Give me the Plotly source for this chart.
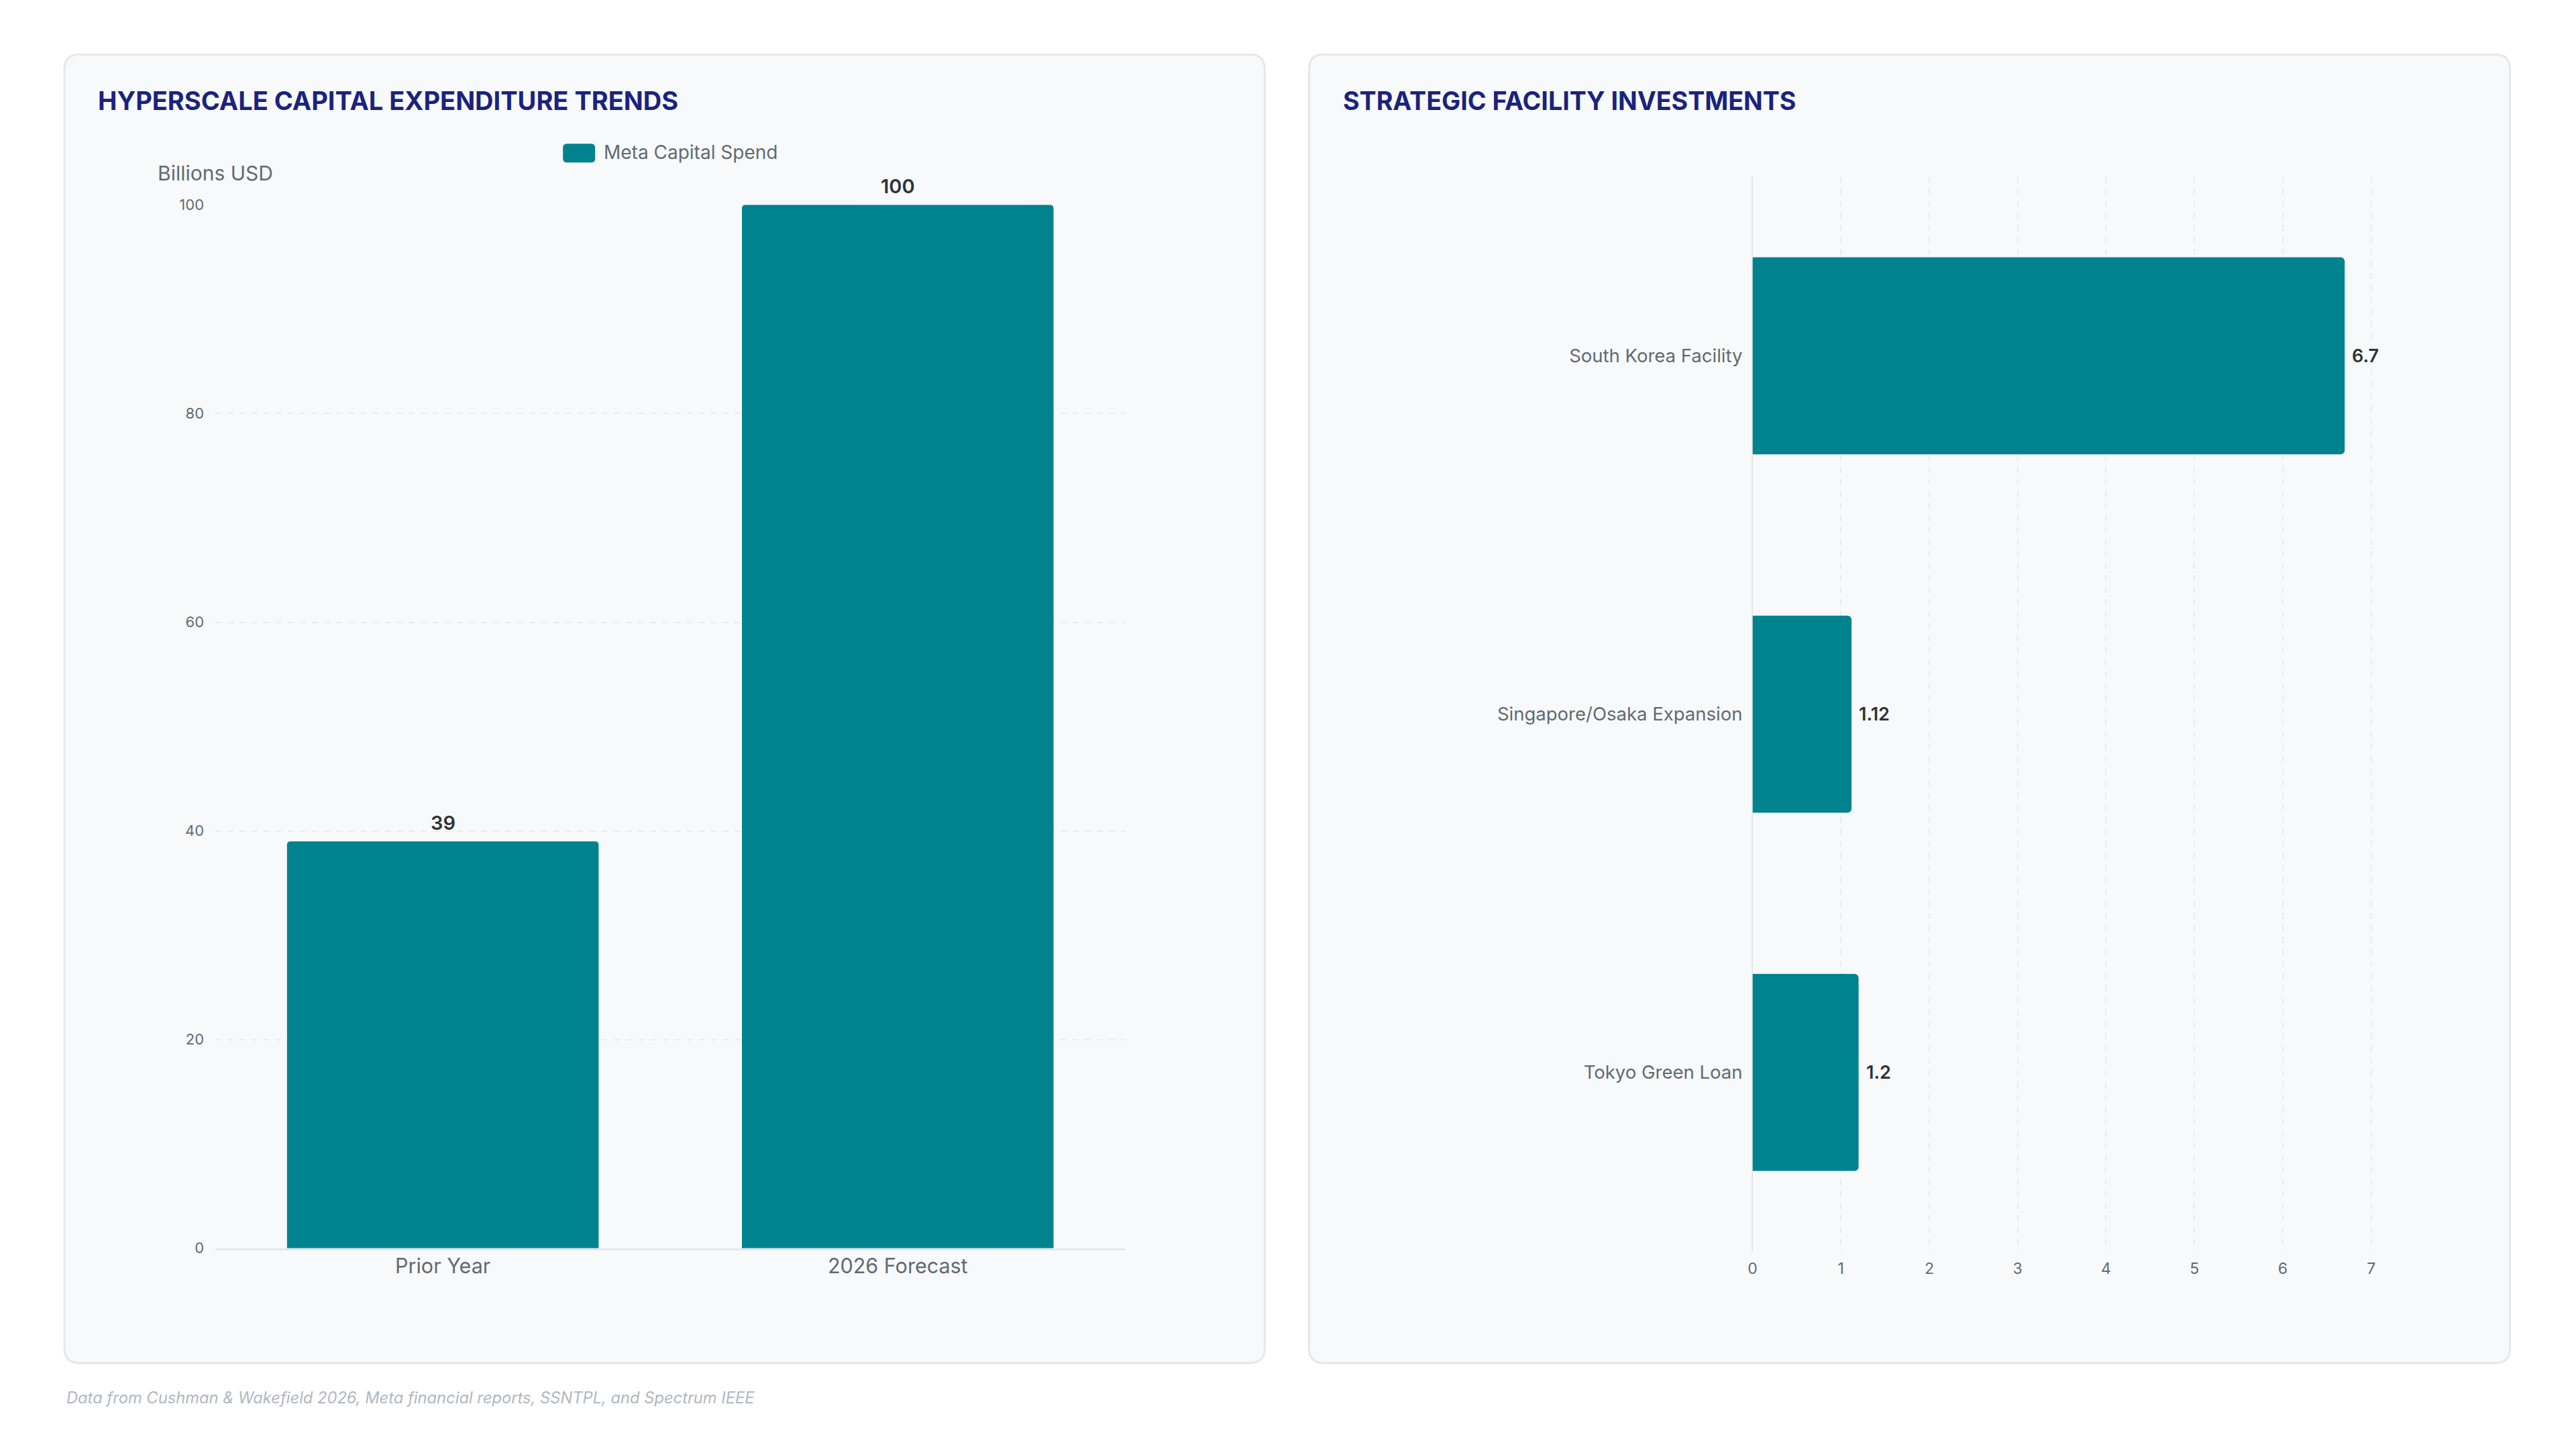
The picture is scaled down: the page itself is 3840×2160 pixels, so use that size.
import plotly.graph_objects as go

# Figure size (page has an 8px body margin around the plot div)
OFF = 8
W, H = 3840 - 2 * OFF, 2160 - 2 * OFF
# empirical screen mapping correction
SX, SY, AY = 0.998, 0.987, 5.0

# ---- data ----
capex_categories = ["Prior Year", "2026 Forecast"]
capex_values = [39, 100]
capex_series_name = "Meta Capital Spend"
capex_axis_title = "Billions USD"
capex_ticks = [0, 20, 40, 60, 80, 100]

facility_categories = ["South Korea Facility", "Singapore/Osaka Expansion", "Tokyo Green Loan"]
facility_values = [6.7, 1.12, 1.2]
facility_ticks = [0, 1, 2, 3, 4, 5, 6, 7]

left_title = "HYPERSCALE CAPITAL EXPENDITURE TRENDS"
right_title = "STRATEGIC FACILITY INVESTMENTS"
footer = "Data from Cushman & Wakefield 2026, Meta financial reports, SSNTPL, and Spectrum IEEE"

TEAL = "#00838F"
NAVY = "#1A237E"
LABEL = "#5F6B70"
VALUE = "#2D3436"
FONT = "Inter, Noto Sans, sans-serif"


def px(x):
    return (x / SX - OFF) / W


def py(y):
    return 1 - ((y - AY) / SY - OFF) / H


def rounded_path(x0, y0, x1, y1, r):
    pts = [
        ("M", [(x0 + r, y0)]),
        ("L", [(x1 - r, y0)]),
        ("Q", [(x1, y0), (x1, y0 + r)]),
        ("L", [(x1, y1 - r)]),
        ("Q", [(x1, y1), (x1 - r, y1)]),
        ("L", [(x0 + r, y1)]),
        ("Q", [(x0, y1), (x0, y1 - r)]),
        ("L", [(x0, y0 + r)]),
        ("Q", [(x0, y0), (x0 + r, y0)]),
    ]
    s = ""
    for cmd, ps in pts:
        s += cmd + " " + " ".join(f"{px(a):.6f},{py(b):.6f}" for a, b in ps) + " "
    return s + "Z"


fig = go.Figure()

fig.add_trace(go.Bar(
    x=capex_categories, y=capex_values, name=capex_series_name,
    width=0.685,
    marker=dict(color=TEAL, cornerradius=5, line=dict(width=0)),
    showlegend=False, xaxis="x", yaxis="y",
))

fig.add_trace(go.Bar(
    y=facility_categories, x=facility_values, orientation="h",
    width=0.55,
    marker=dict(color=TEAL, cornerradius=6, line=dict(width=0)),
    showlegend=False, xaxis="x2", yaxis="y2",
))

grid = "#E9ECEF"

fig.update_layout(
    width=W, height=H,
    margin=dict(l=0, r=0, t=0, b=0),
    paper_bgcolor="white", plot_bgcolor="rgba(0,0,0,0)",
    font=dict(family=FONT, color=LABEL),
    xaxis=dict(
        domain=[px(322), px(1678)], anchor="y",
        showgrid=False, zeroline=False, showline=True, linecolor="#E3E6EA", linewidth=3,
        ticks="", tickfont=dict(size=30.5, color=LABEL), ticklabelstandoff=-2,
        fixedrange=True,
    ),
    yaxis=dict(
        domain=[py(1859), py(305)], anchor="x",
        range=[0, 100], tickvals=capex_ticks,
        showgrid=True, gridcolor=grid, griddash="dash", gridwidth=2,
        zeroline=False, showline=False,
        tickfont=dict(size=22, color=LABEL), ticklabelstandoff=16,
    ),
    xaxis2=dict(
        domain=[px(2613), px(3601)], anchor="y2",
        range=[0, 7.5], tickvals=facility_ticks,
        showgrid=True, gridcolor=grid, griddash="dash", gridwidth=2,
        zeroline=True, zerolinecolor="#E3E6EA", zerolinewidth=2, showline=False,
        tickfont=dict(size=23, color=LABEL), ticklabelstandoff=9,
    ),
    yaxis2=dict(
        domain=[py(1864), py(263)], anchor="x2",
        autorange="reversed", categoryorder="array", categoryarray=facility_categories,
        showgrid=False, zeroline=False, showline=False,
        tickfont=dict(size=27.5, color=LABEL), ticklabelstandoff=14,
    ),
)

shapes = []
for x0, x1 in [(97, 1886), (1952, 3742)]:
    shapes.append(dict(type="path", path=rounded_path(x0, 81, x1, 2030, 22),
                       xref="paper", yref="paper", fillcolor="#F8F9FB",
                       line=dict(color="#E5E8EC", width=3), layer="below"))
# legend swatch
shapes.append(dict(type="path", path=rounded_path(840, 214, 888, 242, 6),
                   xref="paper", yref="paper", fillcolor=TEAL,
                   line=dict(width=0), layer="above"))
fig.update_layout(shapes=shapes)

annotations = [
    dict(text=f"<b>{left_title}</b>", x=px(145), y=py(150), xref="paper", yref="paper",
         xanchor="left", yanchor="middle", showarrow=False,
         font=dict(family=FONT, size=38, color=NAVY)),
    dict(text=f"<b>{right_title}</b>", x=px(2001), y=py(150), xref="paper", yref="paper",
         xanchor="left", yanchor="middle", showarrow=False,
         font=dict(family=FONT, size=37.6, color=NAVY)),
    dict(text=capex_series_name, x=px(899), y=py(227), xref="paper", yref="paper",
         xanchor="left", yanchor="middle", showarrow=False,
         font=dict(family=FONT, size=28, color=LABEL)),
    dict(text=capex_axis_title, x=px(234), y=py(258), xref="paper", yref="paper",
         xanchor="left", yanchor="middle", showarrow=False,
         font=dict(family=FONT, size=30, color=LABEL)),
    dict(text=f"<i>{footer}</i>", x=px(98), y=py(2082), xref="paper", yref="paper",
         xanchor="left", yanchor="middle", showarrow=False,
         font=dict(family=FONT, size=23.7, color="#B0B8BF")),
]

# value labels, positioned through the data axes
for cat, val in zip(capex_categories, capex_values):
    annotations.append(dict(
        text=str(val), x=cat, y=val, xref="x", yref="y",
        xanchor="center", yanchor="middle", yshift=28, showarrow=False,
        font=dict(family=FONT, size=29, color=VALUE, weight=600),
    ))
for cat, val in zip(facility_categories, facility_values):
    annotations.append(dict(
        text=str(val), x=val, y=cat, xref="x2", yref="y2",
        xanchor="left", yanchor="middle", xshift=9, showarrow=False,
        font=dict(family=FONT, size=27, color=VALUE, weight=600),
    ))

fig.update_layout(annotations=annotations)

fig.write_html("out.html")
